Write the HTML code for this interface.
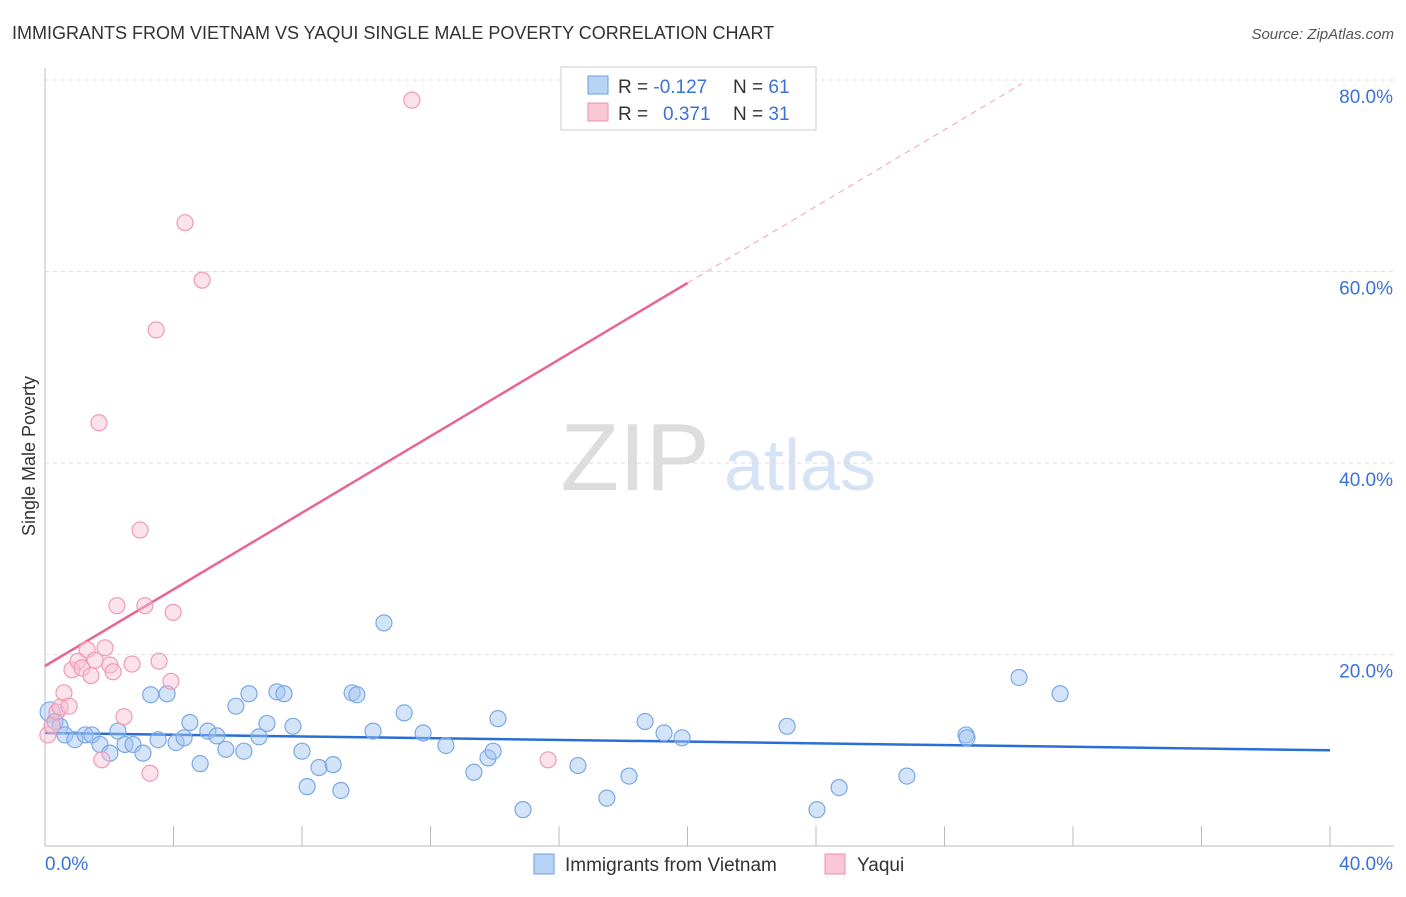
<!DOCTYPE html>
<html><head><meta charset="utf-8"><style>
body{margin:0;background:#fff;font-family:"Liberation Sans",sans-serif;}
svg text{font-family:"Liberation Sans",sans-serif;}
</style></head><body>
<svg id="c" width="1406" height="892" xmlns="http://www.w3.org/2000/svg">
<text x="12" y="39" font-size="18" fill="#333">IMMIGRANTS FROM VIETNAM VS YAQUI SINGLE MALE POVERTY CORRELATION CHART</text>
<text x="1394" y="39" font-size="15" fill="#555" text-anchor="end" font-style="italic">Source: ZipAtlas.com</text>
<text x="35" y="456" font-size="18" fill="#333" text-anchor="middle" transform="rotate(-90 35 456)">Single Male Poverty</text>
<g><text x="635" y="490" font-size="96" fill="#ddd" font-family="Liberation Serif" text-anchor="middle">ZIP</text><text x="800" y="490" font-size="72" fill="#d5e3f5" text-anchor="middle">atlas</text></g>
<g id="grid"></g><g id="lines"></g><g id="pts"></g>
<g>
<rect x="561" y="67" width="255" height="63" fill="#fff" stroke="#ccc"/>
<rect x="588" y="76" width="20" height="18" fill="#b8d4f5" stroke="#6a9ee0"/>
<rect x="588" y="103" width="20" height="18" fill="#f9c6d6" stroke="#ee8fac"/>
<text x="618" y="93" font-size="19" fill="#333">R = <tspan fill="#3b72d9">-0.127</tspan><tspan x="733">N = </tspan><tspan fill="#3b72d9">61</tspan></text>
<text x="618" y="120" font-size="19" fill="#333">R = <tspan x="663" fill="#3b72d9">0.371</tspan><tspan x="733">N = </tspan><tspan fill="#3b72d9">31</tspan></text>
</g>
<g>
<rect x="534" y="854" width="20" height="20" fill="#b8d4f5" stroke="#6a9ee0"/>
<text x="565" y="871" font-size="19" fill="#333">Immigrants from Vietnam</text>
<rect x="825" y="854" width="20" height="20" fill="#f9c6d6" stroke="#ee8fac"/>
<text x="857" y="871" font-size="19" fill="#333">Yaqui</text>
</g>
</svg>
<script>
const xTicks=[0,4,8,12,16,20,24,28,32,36,40];
const yTicks=[20,40,60,80];
const blueX=[0.16,0.31,0.47,0.62,0.93,1.25,1.46,1.71,2.02,2.27,2.49,2.74,3.05,3.29,3.52,3.80,4.08,4.33,4.51,4.83,5.07,5.35,5.63,5.94,6.19,6.35,6.66,6.91,7.22,7.44,7.72,8.00,8.16,8.53,8.97,9.21,9.56,9.71,10.21,10.55,11.18,11.77,12.48,13.35,13.79,13.95,14.10,14.88,16.59,17.49,18.18,18.68,19.27,19.83,23.10,24.03,24.72,26.83,28.67,28.70,30.32,31.60];
const blueY=[14.0,13.0,12.5,11.6,11.1,11.6,11.6,10.6,9.7,12.0,10.6,10.6,9.7,15.8,11.1,15.9,10.8,11.3,12.9,8.6,12.0,11.5,10.1,14.6,9.9,15.9,11.4,12.8,16.1,15.9,12.5,9.9,6.2,8.2,8.5,5.8,16.0,15.8,12.0,23.3,13.9,11.8,10.5,7.7,9.2,9.9,13.3,3.8,8.4,5.0,7.3,13.0,11.8,11.3,12.5,3.8,6.1,7.3,11.6,11.3,17.6,15.9];
const pinkX=[0.09,0.22,0.37,0.47,0.59,0.75,0.84,1.03,1.15,1.31,1.43,1.56,1.68,1.77,1.87,2.02,2.12,2.24,2.46,2.71,2.96,3.11,3.27,3.46,3.55,3.92,3.99,4.36,4.89,11.42,15.66];
const pinkY=[11.6,12.6,14.0,14.5,16.0,14.6,18.4,19.3,18.6,20.5,17.8,19.4,44.2,9.0,20.7,18.9,18.2,25.1,13.5,19.0,33.0,25.1,7.6,53.9,19.3,17.2,24.4,65.1,59.1,77.9,9.0];
const blueFit=[11.8,-0.045];
const pinkFit=[18.8,2.0];
const X=v=>45+v/40*1285, Y=v=>846-v/20*191.5;
const NS="http://www.w3.org/2000/svg";
function mk(p,t,a){const e=document.createElementNS(NS,t);for(const k in a)e.setAttribute(k,a[k]);document.getElementById(p).appendChild(e);return e;}
let e=mk('grid','line',{x1:45,x2:45,y1:68,y2:846,stroke:'#bbb'});


e=mk('grid','line',{x1:45,x2:1394,y1:846,y2:846,stroke:'#bbb'});


yTicks.forEach(t=>{
 e=mk('grid','line',{x1:45,x2:1394,y1:Y(t),y2:Y(t),stroke:'#ddd','stroke-dasharray':'4,4'});
 
 
 e=mk('grid','text',{x:1393,y:Y(t)+23,'font-size':19,fill:'#3b72d9','text-anchor':'end'});
 e.textContent=t.toFixed(1)+'%';
 
 
});
xTicks.forEach((t,i)=>{
 e=mk('grid','line',{x1:X(t),x2:X(t),y1:826,y2:846,stroke:'#bbb'});
 
 
 if(i==0||i==xTicks.length-1){
 e=mk('grid','text',{x:i==0?45:1393,y:870,'font-size':19,fill:'#3b72d9','text-anchor':i==0?'start':'end'});
 e.textContent=t.toFixed(1)+'%';
 
 }
});
blueX.forEach((x,i)=>{
 e=mk('pts','circle',{cx:X(x),cy:Y(blueY[i]),r:i==0?10:8,fill:'rgba(160,196,240,0.45)',stroke:'#7aa8e6','stroke-width':1.2});
 
 
});
pinkX.forEach((x,i)=>{
 e=mk('pts','circle',{cx:X(x),cy:Y(pinkY[i]),r:8,fill:'rgba(248,190,208,0.45)',stroke:'#f09ab5','stroke-width':1.2});
 
 
});
e=mk('lines','line',{x1:X(0),y1:Y(blueFit[0]),x2:X(40),y2:Y(blueFit[0]+40*blueFit[1]),stroke:'#2a6fd6','stroke-width':2.5});


e=mk('lines','line',{x1:X(0),y1:Y(pinkFit[0]),x2:X(20),y2:Y(pinkFit[0]+20*pinkFit[1]),stroke:'#e8668f','stroke-width':2.5});


e=mk('lines','line',{x1:X(20),y1:Y(pinkFit[0]+20*pinkFit[1]),x2:X(30.4),y2:Y(pinkFit[0]+30.4*pinkFit[1]),stroke:'#f0a0b8','stroke-width':1,'stroke-dasharray':'6,5'});


</script>
</body></html>
